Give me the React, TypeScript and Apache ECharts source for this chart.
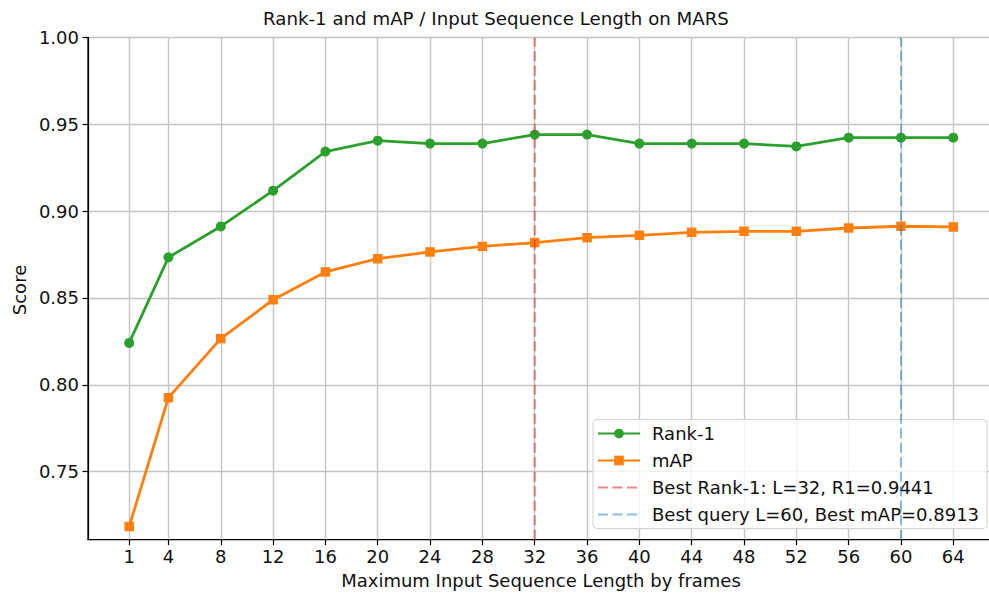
import React, { useEffect, useRef } from "react";
import * as echarts from "echarts";

const xTicks = [1, 4, 8, 12, 16, 20, 24, 28, 32, 36, 40, 44, 48, 52, 56, 60, 64];
const rank1 = [0.8241, 0.8734, 0.8912, 0.9118, 0.9343, 0.9406, 0.9389, 0.9389, 0.9441, 0.9441, 0.9389, 0.9389, 0.9389, 0.9373, 0.9423, 0.9423, 0.9423];
const mAP = [0.7184, 0.7926, 0.8266, 0.849, 0.865, 0.8726, 0.8765, 0.8797, 0.8819, 0.8847, 0.8861, 0.8878, 0.8884, 0.8884, 0.8903, 0.8913, 0.8909];
const yTicks = [0.75, 0.8, 0.85, 0.9, 0.95, 1.0];
const bestRank1L = 32;
const bestRank1 = 0.9441;
const bestMapL = 60;
const bestMap = 0.8913;

const Y_MIN = 0.7108;
const Y_MAX = 1.0;
const X_MIN = -2.15;
const X_MAX = 67.15;

const FONT = "DejaVu Sans";
const FS = 18;

export default function App() {
  const ref = useRef<HTMLDivElement>(null);
  useEffect(() => {
    if (!ref.current) return;
    const chart = echarts.init(ref.current, undefined, { renderer: "svg" });
    const labelR1 = `Best Rank-1: L=${bestRank1L}, R1=${bestRank1.toFixed(4)}`;
    const labelMap = `Best query L=${bestMapL}, Best mAP=${bestMap.toFixed(4)}`;
    chart.setOption({
      animation: false,
      backgroundColor: "#ffffff",
      textStyle: { fontFamily: FONT },
      grid: {
        left: 88,
        top: 37.5,
        width: 906.5,
        height: 502.2,
        outerBoundsMode: "none",
        containLabel: false,
        show: true,
        borderColor: "#000000",
        borderWidth: 1.2,
        backgroundColor: "transparent",
      },
      graphic: [
        {
          type: "text",
          x: 496,
          y: 18,
          style: {
            text: "Rank-1 and mAP / Input Sequence Length on MARS",
            fill: "#111",
            font: `18.2px ${FONT}`,
            textAlign: "center",
            textVerticalAlign: "middle",
          },
        },
        {
          type: "text",
          x: 541,
          y: 580,
          style: {
            text: "Maximum Input Sequence Length by frames",
            fill: "#111",
            font: `${FS}px ${FONT}`,
            textAlign: "center",
            textVerticalAlign: "middle",
          },
        },
        {
          type: "text",
          x: 19,
          y: 290,
          rotation: Math.PI / 2,
          style: {
            text: "Score",
            fill: "#111",
            font: `${FS}px ${FONT}`,
            textAlign: "center",
            textVerticalAlign: "middle",
          },
        },
      ],
      xAxis: {
        type: "value",
        min: X_MIN,
        max: X_MAX,
        axisLine: { show: true, onZero: false, lineStyle: { color: "#000", width: 1.2 } },
        axisTick: {
          show: true,
          customValues: xTicks,
          length: 5.5,
          lineStyle: { color: "#000", width: 1.2 },
        },
        axisLabel: {
          customValues: xTicks,
          color: "#111",
          fontSize: FS,
          fontFamily: FONT,
          margin: 8,
        },
        splitLine: { show: true, lineStyle: { color: "#c4c4c4", width: 1.4 } },
      },
      yAxis: {
        type: "value",
        min: Y_MIN,
        max: Y_MAX,
        axisLine: { show: true, onZero: false, lineStyle: { color: "#000", width: 1.2 } },
        axisTick: {
          show: true,
          customValues: yTicks,
          length: 5.5,
          lineStyle: { color: "#000", width: 1.2 },
        },
        axisLabel: {
          customValues: yTicks,
          color: "#111",
          fontSize: FS,
          fontFamily: FONT,
          margin: 9,
          formatter: (v: number) => v.toFixed(2),
        },
        splitLine: { show: true, lineStyle: { color: "#c4c4c4", width: 1.4 } },
      },
      legend: {
        orient: "vertical",
        left: 593,
        top: 419.5,
        padding: [5, 8, 5, 4],
        itemWidth: 42,
        itemHeight: 12,
        itemGap: 9,
        backgroundColor: "rgba(255,255,255,0.8)",
        borderColor: "#d0d0d0",
        borderWidth: 1,
        borderRadius: 4,
        textStyle: { fontSize: FS, fontFamily: FONT, color: "#111", lineHeight: 18, padding: [0, 0, 0, 7] },
        data: [
          "Rank-1",
          "mAP",
          { name: labelR1, itemStyle: { opacity: 0 } },
          { name: labelMap, itemStyle: { opacity: 0 } },
        ],
      },
      series: [
        {
          name: "Rank-1",
          type: "line",
          data: xTicks.map((x, i) => [x, rank1[i]]),
          symbol: "circle",
          symbolSize: 10,
          lineStyle: { color: "#2ca02c", width: 2.8 },
          itemStyle: { color: "#2ca02c" },
          z: 3,
        },
        {
          name: "mAP",
          type: "line",
          data: xTicks.map((x, i) => [x, mAP[i]]),
          symbol: "rect",
          symbolSize: 9.5,
          lineStyle: { color: "#ff7f0e", width: 2.8 },
          itemStyle: { color: "#ff7f0e" },
          z: 3,
        },
        {
          name: labelR1,
          type: "line",
          data: [
            [bestRank1L, Y_MIN],
            [bestRank1L, Y_MAX],
          ],
          symbol: "none",
          lineStyle: { color: "rgba(214,39,40,0.55)", width: 2, type: [10, 4.5] },
          itemStyle: { color: "rgba(214,39,40,0.55)" },
          z: 4,
        },
        {
          name: labelMap,
          type: "line",
          data: [
            [bestMapL, Y_MIN],
            [bestMapL, Y_MAX],
          ],
          symbol: "none",
          lineStyle: { color: "rgba(31,119,180,0.5)", width: 2, type: [10, 4.5] },
          itemStyle: { color: "rgba(31,119,180,0.5)" },
          z: 4,
        },
      ],
    });
    return () => chart.dispose();
  }, []);
  return <div ref={ref} style={{ width: 989, height: 595, position: "fixed", left: 0, top: 0 }} />;
}
